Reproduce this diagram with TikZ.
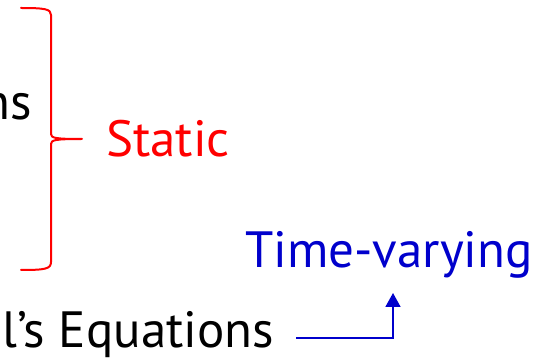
\documentclass[tikz,border=0pt]{standalone}
\usepackage{fontspec}
\setmainfont{PT Sans}
\usetikzlibrary{arrows.meta}
\definecolor{bracered}{RGB}{255,0,0}
\definecolor{tvblue}{RGB}{0,0,204}
\begin{document}
\begin{tikzpicture}[x=1pt,y=1pt,
  lbl/.style={inner sep=0pt,font=\fontsize{51}{60}\selectfont},
  bracepath/.style={draw=bracered,line width=2pt,line cap=round,line join=round},
  conn/.style={draw=tvblue,line width=1.8pt,-{Triangle[length=14pt,width=15pt]}}]
\useasboundingbox (0,0) rectangle (547,359);
\clip (0,0) rectangle (547,359);
\node[lbl,anchor=base east] (ns) at (32,239) {ns};
\node[lbl,anchor=base west,text=bracered] (static) at (106,202) {Static};
\node[lbl,anchor=base west,text=tvblue] (tv) at (245,91) {Time-varying};
\node[lbl,anchor=base west] (eq) at (2,11) {l’s Equations};
\path[bracepath] (21,351) .. controls (45,351) and (51,350) .. (51,344)
  -- (51,225) .. controls (51,221) and (55,220) .. (82,220)
  .. controls (55,220) and (51,219) .. (51,215)
  -- (51,97) .. controls (51,90) and (45,89) .. (21,89);
\coordinate (astart) at (296,21);
\coordinate (aend) at (393,66);
\path[conn] (astart) -| (aend);
\end{tikzpicture}
\end{document}
